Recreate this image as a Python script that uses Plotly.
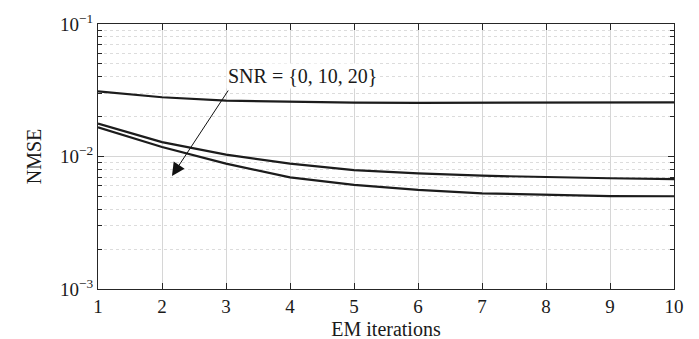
import numpy as np
import plotly.graph_objects as go

iterations = [1, 2, 3, 4, 5, 6, 7, 8, 9, 10]
nmse_snr0 = [0.0310, 0.0280, 0.0264, 0.0258, 0.0255, 0.0254, 0.0254, 0.0254, 0.0255, 0.0256]
nmse_snr10 = [0.0177, 0.01285, 0.01033, 0.00884, 0.0079, 0.00747, 0.00716, 0.00697, 0.00685, 0.00676]
nmse_snr20 = [0.0166, 0.0118, 0.00884, 0.00696, 0.0061, 0.00559, 0.00527, 0.00512, 0.00503, 0.00501]
y_tick_vals = [1e-3, 1e-2, 1e-1]
y_tick_text = ["10<sup>−3</sup>", "10<sup>−2</sup>", "10<sup>−1</sup>"]
annotation_text = "SNR = {0, 10, 20}"

FONT = "Liberation Serif"
LINE_COLOR = "#1c1c1c"
AX_COLOR = "#262626"
GRID = "#d6d6d6"

fig = go.Figure()
for ys in (nmse_snr0, nmse_snr10, nmse_snr20):
    fig.add_trace(go.Scatter(x=iterations, y=ys, mode="lines",
                             line=dict(color=LINE_COLOR, width=2.2),
                             showlegend=False, hoverinfo="skip"))

fig.update_layout(
    width=699, height=339,
    margin=dict(l=90, r=33, t=16, b=58),
    paper_bgcolor="white", plot_bgcolor="white",
    font=dict(family=FONT, size=18, color="#1a1a1a"),
)
fig.update_xaxes(
    range=[1, 10], tickmode="array", tickvals=iterations,
    ticks="inside", ticklen=6, tickcolor=AX_COLOR, tickwidth=1,
    showline=True, linecolor=AX_COLOR, linewidth=1.2, mirror="ticks",
    showgrid=True, gridcolor=GRID, gridwidth=1.3,
    zeroline=False, automargin=False,
    title=dict(text="EM iterations", standoff=6, font=dict(size=20)),
    tickfont=dict(size=19),
)
fig.update_yaxes(
    type="log", range=[-3, -1],
    tickmode="array", tickvals=y_tick_vals, ticktext=y_tick_text,
    ticks="inside", ticklen=6, tickcolor=AX_COLOR, tickwidth=1,
    showline=True, linecolor=AX_COLOR, linewidth=1.2, mirror="ticks",
    showgrid=True, gridcolor=GRID, gridwidth=1.3,
    zeroline=False, automargin=False,
    minor=dict(ticks="inside", ticklen=4, tickcolor=AX_COLOR,
               showgrid=True, gridcolor="#dcdcdc", griddash="dot", gridwidth=1,
               dtick="D1"),
    title=dict(text="NMSE", standoff=12, font=dict(size=20)),
    tickfont=dict(size=19),
)

# arrow (log-axis annotation coordinates are log10 values)
fig.add_annotation(
    x=2.156, y=np.log10(0.00713), ax=3.05, ay=np.log10(0.0323),
    xref="x", yref="y", axref="x", ayref="y",
    text="", showarrow=True, arrowhead=2, arrowsize=2.6, arrowwidth=1,
    arrowcolor="#111111",
)
fig.add_annotation(
    x=3.0, y=np.log10(0.0406), xref="x", yref="y",
    xanchor="left", yanchor="middle", text=annotation_text,
    showarrow=False, bgcolor="white", borderpad=1,
    font=dict(size=20, family=FONT, color="#1a1a1a"),
)

fig.write_html("out.html")
